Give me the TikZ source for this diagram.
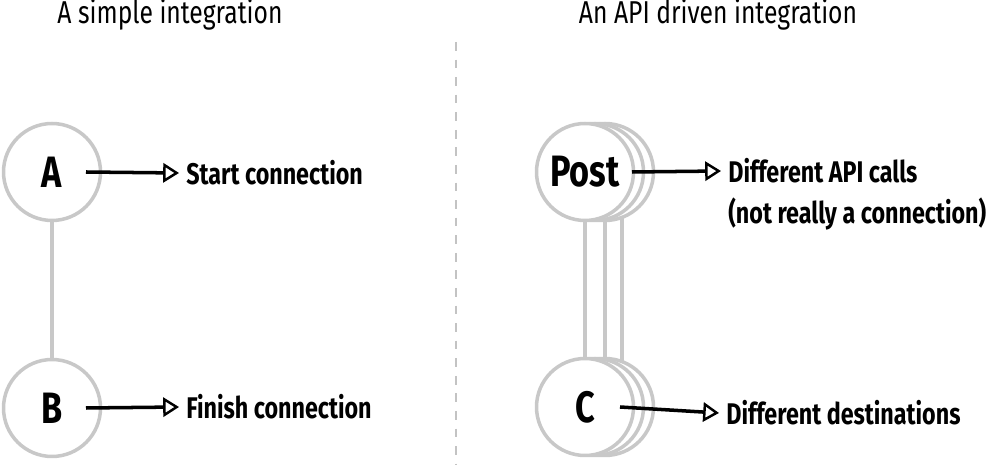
\documentclass[tikz,border=0pt]{standalone}
\usepackage{fontspec}
\setmainfont{Fira Sans}[FakeStretch=0.78]
\usetikzlibrary{arrows.meta,calc,backgrounds,positioning}
\definecolor{ringgray}{RGB}{200,200,200}
\definecolor{splitgray}{RGB}{195,195,195}

\begin{document}
\begin{tikzpicture}[x=0.02cm,y=-0.02cm,
  ring/.style={circle,draw=ringgray,line width=2pt,fill=white,minimum size=1.94cm,inner sep=0pt,
    font=\fontsize{25}{27}\selectfont\bfseries},
  stem/.style={draw=ringgray,line width=2pt},
  pointer/.style={line width=2pt,-{Triangle[open,length=9pt,width=11pt,line width=1.4pt]}},
  note/.style={anchor=west,inner sep=4pt,font=\fontsize{17}{19}\selectfont\bfseries},
  heading/.style={font=\fontsize{18}{20}\selectfont\mdseries}]
  \useasboundingbox (0,0) rectangle (988,465);

  % titles and divider
  \node[heading] (lefttitle) at (170,15) {A simple integration};
  \node[heading] (righttitle) at (718,15) {An API driven integration};
  \draw[splitgray,line width=0.8pt,dash pattern=on 5pt off 5pt] (456,42) -- (456,465);

  % simple integration
  \node[ring] (a) at (52,172) {A};
  \node[ring] (b) at (52,408) {B};
  \begin{scope}[on background layer]
    \draw[stem] (a) -- (b);
  \end{scope}
  \node[note] (startconn) at (179,173) {Start connection};
  \node[note] (finishconn) at (179,407) {Finish connection};
  \draw[pointer] ($(a.center)+(34,0)$) -- (startconn.west);
  \draw[pointer] ($(b.center)+(34,0)$) -- (finishconn.west);

  % API driven integration
  \node[ring] (post3) at (605,172) {};
  \node[ring] (post2) at (595,172) {};
  \node[ring] (post) at (585,172) {Post};
  \node[ring] (c3) at (605,407) {};
  \node[ring] (c2) at (595,407) {};
  \node[ring] (c) at (585,407) {C};
  \begin{scope}[on background layer]
    \draw[stem] (post) -- (c);
    \draw[stem] ($(post.center)+(20,0)$) -- ($(c.center)+(20,0)$);
    \draw[stem] ($(post.center)+(37,0)$) -- ($(c.center)+(37,0)$);
  \end{scope}
  \node[note] (apicalls) at (721,171) {Different API calls};
  \node[note,below=0pt of apicalls.south west,anchor=north west] (notconn) {(not really a connection)};
  \node[note] (destinations) at (719,413) {Different destinations};
  \draw[pointer] ($(post.center)+(47,0)$) -- (apicalls.west);
  \draw[pointer] ($(c.center)+(35,0)$) -- (destinations.west);
\end{tikzpicture}
\end{document}
